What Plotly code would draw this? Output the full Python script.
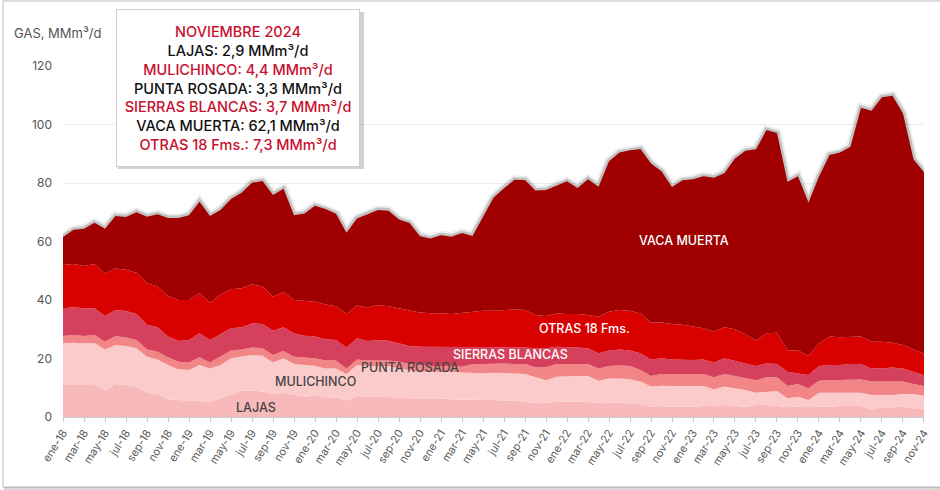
import plotly.graph_objects as go

MESES = ["ene", "feb", "mar", "abr", "may", "jun", "jul", "ago", "sep", "oct", "nov", "dic"]
months = [f"{MESES[i % 12]}-{18 + i // 12}" for i in range(83)]  # ene-18 .. nov-24

lajas = [10.9, 10.9, 10.7, 10.9, 9.0, 11.3, 10.9, 10.4, 8.3, 7.9, 6.0, 5.8, 5.8, 5.6, 5.2, 6.4, 7.5, 9.0, 9.0, 8.7,
         7.9, 8.3, 7.5, 6.9, 7.4, 6.7, 6.7, 5.6, 7.2, 6.9, 6.9, 6.9, 6.7, 6.4, 6.4, 6.3, 6.4, 6.0, 6.0, 5.8,
         5.8, 5.8, 5.6, 5.6, 5.2, 4.7, 4.9, 5.2, 5.2, 5.2, 5.2, 4.7, 4.9, 4.9, 4.7, 4.4, 3.5, 3.8, 3.5, 3.5,
         3.5, 3.8, 3.8, 4.1, 3.8, 3.5, 4.1, 4.1, 3.8, 3.3, 3.5, 3.3, 3.5, 3.5, 3.8, 3.8, 3.8, 2.6, 3.3, 3.3,
         3.5, 3.0, 2.9]
mulichinco = [14.3, 14.5, 14.5, 14.3, 14.1, 13.3, 13.4, 13.1, 12.3, 11.8, 11.8, 10.5, 10.3, 12.2, 11.4, 11.4, 12.6, 11.6, 12.2, 12.2,
              10.7, 11.8, 10.6, 10.9, 10.0, 9.9, 9.9, 9.1, 10.6, 10.5, 10.5, 10.5, 9.9, 9.7, 9.1, 9.2, 9.1, 9.5, 9.2, 9.2,
              9.2, 9.3, 9.5, 9.3, 9.5, 8.9, 7.7, 8.6, 8.8, 8.8, 8.8, 7.7, 8.3, 8.3, 8.2, 7.7, 6.9, 6.9, 7.1, 7.1,
              7.1, 6.8, 5.7, 6.3, 6.0, 5.7, 4.2, 4.6, 5.1, 3.1, 3.4, 2.5, 4.8, 4.8, 4.5, 4.5, 4.5, 4.9, 4.2, 4.2,
              4.4, 4.9, 4.4]
punta_rosada = [2.5, 2.6, 2.5, 2.8, 2.6, 3.1, 2.9, 2.8, 2.5, 2.6, 2.6, 2.6, 2.5, 2.6, 2.0, 2.8, 2.6, 2.5, 2.6, 2.6,
                2.6, 2.5, 2.5, 2.5, 2.7, 2.7, 2.7, 1.9, 1.9, 1.9, 1.9, 1.9, 2.3, 2.0, 2.3, 1.9, 1.9, 1.9, 2.0, 3.0,
                3.1, 3.2, 3.2, 3.2, 3.4, 3.4, 4.4, 4.3, 4.1, 4.1, 4.1, 4.2, 4.2, 4.4, 4.5, 4.0, 3.6, 4.0, 4.1, 4.1,
                4.1, 4.1, 4.1, 4.3, 4.2, 4.0, 4.3, 4.9, 4.7, 4.2, 4.4, 4.0, 4.1, 4.3, 4.3, 4.5, 4.5, 4.6, 4.6, 4.6,
                4.2, 3.4, 3.3]
sierras_blancas = [9.5, 9.5, 9.5, 9.2, 8.8, 8.9, 9.0, 8.9, 8.4, 8.4, 7.1, 7.1, 7.7, 8.2, 7.7, 7.8, 7.6, 7.6, 8.2, 8.3,
                   8.3, 8.1, 8.0, 7.5, 7.4, 7.3, 7.0, 7.2, 7.2, 6.7, 7.0, 6.8, 6.3, 6.2, 6.2, 6.6, 6.6, 6.4, 6.6, 5.9,
                   5.7, 5.5, 5.5, 5.7, 5.7, 6.5, 6.5, 5.9, 5.9, 5.7, 5.4, 5.2, 5.3, 5.5, 5.3, 5.7, 5.7, 5.4, 5.0, 4.8,
                   4.8, 5.0, 5.0, 5.4, 5.3, 5.1, 4.8, 4.7, 4.5, 4.9, 3.6, 4.6, 5.0, 5.2, 5.2, 5.3, 5.3, 4.5, 4.5, 4.8,
                   4.5, 4.2, 3.7]
otras_18 = [14.8, 14.8, 14.4, 15.1, 14.6, 14.2, 14.1, 14.1, 14.2, 13.9, 13.9, 14.0, 13.7, 13.7, 12.8, 13.5, 13.4, 13.3, 13.4, 12.8,
            11.6, 12.1, 11.4, 11.9, 11.9, 11.9, 11.6, 11.4, 11.2, 11.4, 12.0, 11.8, 12.0, 12.1, 11.7, 11.5, 11.5, 11.4, 11.7, 12.1,
            12.5, 12.5, 12.8, 13.0, 12.8, 11.4, 11.0, 11.4, 11.2, 11.4, 11.4, 12.5, 13.3, 13.5, 13.6, 13.6, 12.6, 12.2, 12.1, 12.0,
            11.4, 10.6, 10.6, 10.6, 10.7, 10.0, 8.7, 10.3, 10.7, 7.2, 7.8, 6.5, 7.8, 9.7, 9.5, 9.4, 9.4, 9.1, 9.1, 8.5,
            8.0, 7.6, 7.3]
vaca_muerta = [9.5, 11.7, 12.8, 14.1, 15.3, 17.9, 18.1, 20.7, 22.8, 24.7, 26.6, 28.0, 29.0, 31.3, 29.6, 28.9, 30.8, 32.7, 34.7, 36.1,
               34.8, 35.2, 29.0, 29.9, 32.8, 32.6, 31.6, 27.8, 29.8, 31.9, 32.5, 32.6, 30.3, 29.9, 26.1, 25.5, 26.6, 26.4, 27.4, 25.9,
               32.2, 38.7, 41.6, 44.3, 44.4, 42.5, 43.1, 43.8, 45.4, 43.1, 46.4, 44.4, 51.4, 53.8, 54.9, 56.2, 54.4, 51.7, 46.8, 49.4,
               50.4, 52.0, 52.6, 52.7, 58.4, 62.7, 65.4, 69.5, 68.3, 57.7, 59.6, 52.4, 57.0, 62.1, 63.1, 64.9, 78.2, 79.0, 83.6, 84.4,
               79.2, 65.0, 62.1]

series = [
    ("LAJAS", lajas, "#f7b9b9"),
    ("MULICHINCO", mulichinco, "#fbcbcb"),
    ("PUNTA ROSADA", punta_rosada, "#f28585"),
    ("SIERRAS BLANCAS", sierras_blancas, "#d5405c"),
    ("OTRAS 18 Fms.", otras_18, "#d90000"),
    ("VACA MUERTA", vaca_muerta, "#a00000"),
]

total = [sum(v) for v in zip(*[s[1] for s in series])]

fig = go.Figure()
# soft shadow along the top edge (two passes to suggest a blur)
fig.add_trace(go.Scatter(x=months, y=total, mode="lines",
                         line=dict(color="rgba(40,40,40,0.08)", width=9),
                         hoverinfo="skip", showlegend=False))
fig.add_trace(go.Scatter(x=months, y=total, mode="lines",
                         line=dict(color="rgba(40,40,40,0.22)", width=5),
                         hoverinfo="skip", showlegend=False))
for name, vals, col in series:
    fig.add_trace(go.Scatter(x=months, y=vals, name=name, mode="lines", stackgroup="one",
                             line=dict(width=0, color=col), fillcolor=col, showlegend=False))

FONT = "Inter, Roboto, sans-serif"

# plot geometry in pixels
L, R, T, B = 63, 924, 66, 417
W, H = 940, 490
def px(xp):
    return (xp - L) / (R - L)
def py(yp):
    return (B - yp) / (B - T)

labels = [
    ("VACA MUERTA", 59.1, 60.5, "white"),
    ("OTRAS 18 Fms.", 49.7, 30.4, "white"),
    ("SIERRAS BLANCAS", 42.6, 21.2, "white"),
    ("PUNTA ROSADA", 33.0, 16.8, "#444444"),
    ("MULICHINCO", 24.0, 12.3, "#444444"),
    ("LAJAS", 18.4, 3.1, "#444444"),
]
annotations = []
for txt, xi, yv, c in labels:
    annotations.append(dict(x=xi, y=yv, xref="x", yref="y", text=txt, showarrow=False,
                            font=dict(family=FONT, size=12.5, color=c, weight=500)))

red = "#c8102e"
blk = "#111111"
lines = [
    ("NOVIEMBRE 2024", red),
    ("LAJAS: 2,9 MMm³/d", blk),
    ("MULICHINCO: 4,4 MMm³/d", red),
    ("PUNTA ROSADA: 3,3 MMm³/d", blk),
    ("SIERRAS BLANCAS: 3,7 MMm³/d", red),
    ("VACA MUERTA: 62,1 MMm³/d", blk),
    ("OTRAS 18 Fms.: 7,3 MMm³/d", red),
]
tip = "<br>".join(f"<span style='color:{c}'>{t}</span>" for t, c in lines)
annotations.append(dict(x=px(238), y=py(87.5), xref="paper", yref="paper", text=tip, showarrow=False,
                        xanchor="center", yanchor="middle", align="center",
                        font=dict(family=FONT, size=14.5, color=blk, weight=500),
                        bgcolor="white", bordercolor="#cfcfcf", borderwidth=1, borderpad=8,
                        width=226, height=140))
annotations.append(dict(x=px(12), y=py(33), xref="paper", yref="paper", text="GAS, MMm³/d",
                        showarrow=False, xanchor="left", yanchor="middle",
                        font=dict(family=FONT, size=13, color="#555555")))

shapes = [
    # tooltip shadow
    dict(type="rect", xref="paper", yref="paper", x0=px(118), x1=px(364), y0=py(12), y1=py(169),
         fillcolor="rgba(0,0,0,0.18)", line=dict(width=0), layer="above"),
    # outer frame
    dict(type="rect", xref="paper", yref="paper", x0=px(3), x1=px(945), y0=py(1), y1=py(487),
         line=dict(color="#d4d4d4", width=1.5), layer="below"),
    dict(type="line", xref="paper", yref="paper", x0=px(4), x1=px(945), y0=py(488.5), y1=py(488.5),
         line=dict(color="rgba(0,0,0,0.15)", width=3), layer="below"),
]

fig.update_layout(
    width=W, height=H,
    margin=dict(l=L, r=W - R, t=T, b=H - B),
    paper_bgcolor="white", plot_bgcolor="white",
    font=dict(family=FONT),
    annotations=annotations, shapes=shapes,
    showlegend=False,
    xaxis=dict(type="category", range=[-0.001, 82.001], tickmode="array", tickvals=months[::2], ticktext=months[::2],
               tickangle=-58, tickfont=dict(family=FONT, size=11, color="#5a5a5a"), automargin=False,
               showgrid=False, showline=True, linecolor="#cccccc", linewidth=1,
               ticks="outside", ticklen=4, tickcolor="#cccccc"),
    yaxis=dict(range=[0, 120], tickvals=[0, 20, 40, 60, 80, 100, 120], showgrid=True, gridcolor="#eeeeee",
               automargin=False,
               zeroline=False, tickfont=dict(family=FONT, size=12, color="#555555"), ticks="", ticklabelstandoff=10),
)

fig.write_html("out.html", config={"displayModeBar": False},
               post_script="document.body.style.margin='0';document.body.style.overflow='hidden';")
